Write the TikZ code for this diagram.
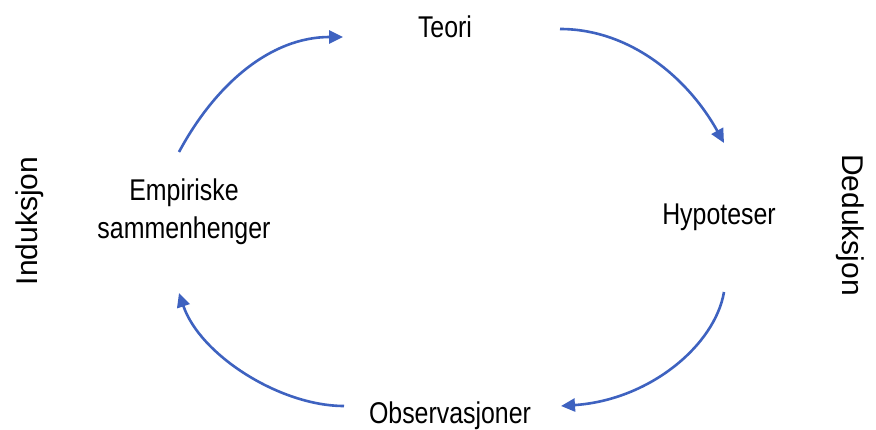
\documentclass[tikz,border=0pt]{standalone}
\usepackage{fontspec}
\setmainfont{Liberation Sans}
\usetikzlibrary{arrows.meta}
\definecolor{arrowblue}{RGB}{62,98,192}
\tikzset{
  lbl/.style={inner sep=0pt, anchor=base, font=\fontsize{30}{38}\selectfont},
  cyc/.style={draw=arrowblue, line width=2.6pt, -{Triangle[length=14pt,width=13pt]}}
}
\newcommand{\hsq}[1]{\scalebox{0.83}[1]{#1}}
\begin{document}
\begin{tikzpicture}[x=1pt,y=-1pt]
\useasboundingbox (0,0) rectangle (876,430);
\node[lbl] (teori) at (445,38) {\hsq{Teori}};
\node[lbl] (hyp) at (719,225) {\hsq{Hypoteser}};
\node[lbl] (obs) at (450,424) {\hsq{Observasjoner}};
\node[lbl, align=center] (emp) at (184,239) {\hsq{Empiriske}\\\hsq{sammenhenger}};
\node[lbl, rotate=90, anchor=base] (ind) at (37,221) {Induksjon};
\node[lbl, rotate=-90, anchor=base] (ded) at (842,225) {Deduksjon};
\coordinate (a1s) at (179,152); \coordinate (a1e) at (343,37);
\coordinate (a2s) at (560,29);  \coordinate (a2e) at (724,143);
\coordinate (a3s) at (724,292); \coordinate (a3e) at (561,406);
\coordinate (a4s) at (344,406); \coordinate (a4e) at (179,293);
\draw[cyc] (a1s) .. controls (215,85) and (270,37) .. (a1e);
\draw[cyc] (a2s) .. controls (630,29) and (688,78) .. (a2e);
\draw[cyc] (a3s) .. controls (715,345) and (650,400) .. (a3e);
\draw[cyc] (a4s) .. controls (280,406) and (200,355) .. (a4e);
\end{tikzpicture}
\end{document}
